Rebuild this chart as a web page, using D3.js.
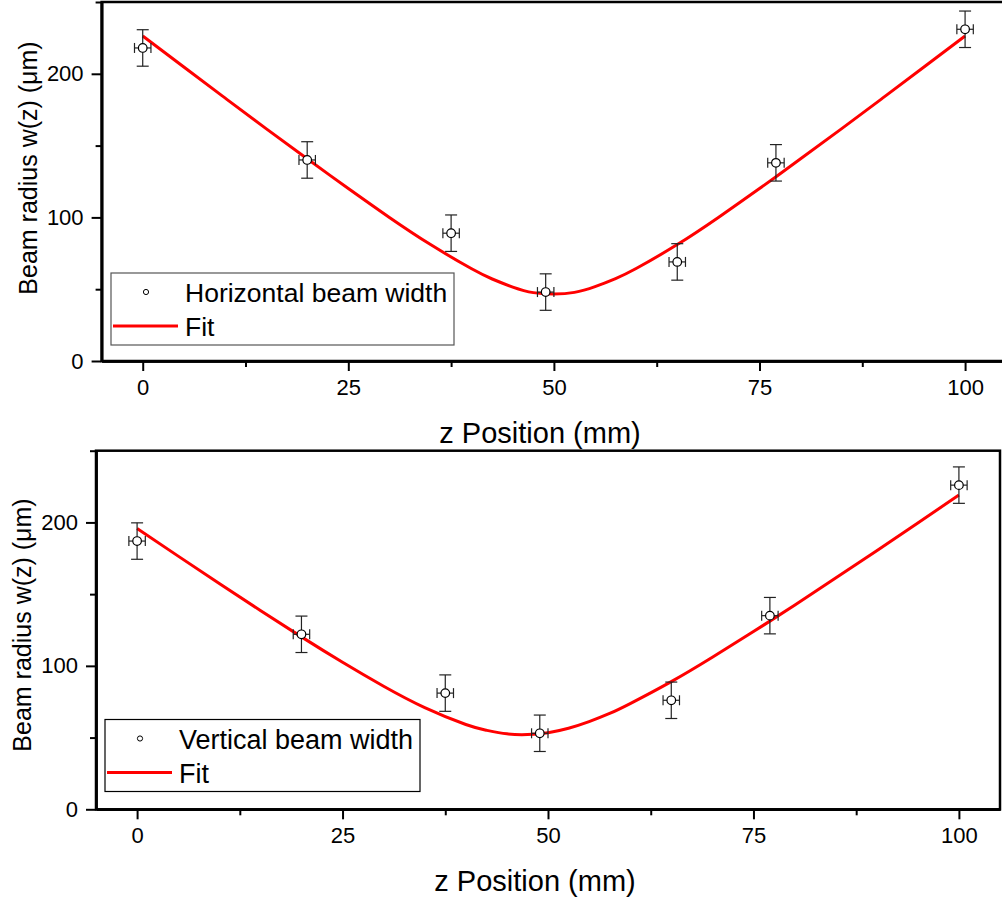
<!DOCTYPE html>
<html>
<head>
<meta charset="utf-8">
<script src="https://cdn.jsdelivr.net/npm/d3@7"></script>
<style>
  body { margin: 0; background: #fff; }
  svg { display: block; }
  text { font-family: "Liberation Sans", Arial, sans-serif; fill: #000; }
</style>
</head>
<body>
<script>
// measured points (mm, um)
var zPos = [0, 20, 37.5, 49, 65, 77, 100];
var horizWidth = [218, 140, 89, 48, 69, 138, 231];
var vertWidth = [187, 122, 81, 53, 76, 135, 226];
var wErr = 12.7;   // um
var zErr = 1;      // mm

// fit curves
var fitZ = [0, 5, 10, 15, 20, 25, 30, 35, 40, 42.5, 45, 47.5, 50, 52.5, 55, 57.5, 60, 65, 70, 75, 80, 85, 90, 95, 100];
var horizFit = [226.3, 204.7, 183.2, 161.8, 140.8, 120.1, 100.0, 81.1, 64.2, 57.1, 51.5, 47.6, 46.6, 47.8, 51.8, 57.4, 64.4, 81.1, 100.0, 120.1, 140.8, 161.8, 183.2, 204.7, 226.3];
var vertFit = [195.8, 176.5, 157.4, 138.6, 120.2, 102.5, 85.8, 70.9, 59.1, 55.1, 52.6, 52.1, 53.4, 56.5, 61.1, 66.8, 73.7, 89.0, 106.0, 123.9, 142.3, 161.2, 180.3, 199.6, 219.1];

// ticks
var xMajor = [0, 25, 50, 75, 100];
var xMinor = [12.5, 37.5, 62.5, 87.5];
var yMajor = [0, 100, 200];
var yMinor = [50, 150, 250];

var w = 1002, h = 900;
var svg = d3.select("body").append("svg")
            .attr("width", w)
            .attr("height", h);

function drawPanel(p) {
  var xScale = d3.scaleLinear().domain([-5, 105]).range([p.left, p.right]);
  var yScale = d3.scaleLinear().domain([0, 250]).range([p.bottom, p.top]);
  var g = svg.append("g");

  // frame
  g.append("rect")
   .attr("x", p.left).attr("y", p.top)
   .attr("width", p.right - p.left).attr("height", p.bottom - p.top)
   .attr("fill", "none").attr("stroke", "#000").attr("stroke-width", 2.5);

  // axes (major + minor)
  var xAxis = d3.axisBottom(xScale).tickValues(xMajor).tickSize(10).tickSizeOuter(0).tickPadding(8);
  var xAxisMinor = d3.axisBottom(xScale).tickValues(xMinor).tickSize(6).tickSizeOuter(0).tickFormat("");
  var yAxis = d3.axisLeft(yScale).tickValues(yMajor).tickSize(10).tickSizeOuter(0).tickPadding(8);
  var yAxisMinor = d3.axisLeft(yScale).tickValues(yMinor).tickSize(6).tickSizeOuter(0).tickFormat("");

  [[xAxis, "x"], [xAxisMinor, "x"], [yAxis, "y"], [yAxisMinor, "y"]].forEach(function(a) {
    var ax = g.append("g")
      .attr("transform", a[1] == "x" ? "translate(0," + p.bottom + ")" : "translate(" + p.left + ",0)")
      .call(a[0]);
    ax.select(".domain").attr("stroke", "#000").attr("stroke-width", 2.5);
    ax.selectAll(".tick line").attr("stroke", "#000").attr("stroke-width", 2);
    ax.selectAll(".tick text")
      .style("font-family", "'Liberation Sans', Arial, sans-serif")
      .style("font-size", "22px").attr("fill", "#000");
  });

  // fit line
  var line = d3.line()
               .x(function(d, i) { return xScale(fitZ[i]); })
               .y(function(d) { return yScale(d); })
               .curve(d3.curveNatural);
  g.append("path")
   .datum(p.fit)
   .attr("d", line)
   .attr("fill", "none")
   .attr("stroke", "#ff0000")
   .attr("stroke-width", 3);

  // error bars + points
  for (let i = 0; i < zPos.length; i++) {
    var cx = xScale(zPos[i]);
    var cy = yScale(p.data[i]);
    var yt = yScale(p.data[i] + wErr), yb = yScale(p.data[i] - wErr);
    var xl = xScale(zPos[i] - zErr), xr = xScale(zPos[i] + zErr);
    var eb = g.append("g").attr("stroke", "#222").attr("stroke-width", 1.2);
    eb.append("line").attr("x1", cx).attr("x2", cx).attr("y1", yt).attr("y2", yb);
    eb.append("line").attr("x1", cx - 6).attr("x2", cx + 6).attr("y1", yt).attr("y2", yt);
    eb.append("line").attr("x1", cx - 6).attr("x2", cx + 6).attr("y1", yb).attr("y2", yb);
    eb.append("line").attr("x1", xl).attr("x2", xr).attr("y1", cy).attr("y2", cy);
    eb.append("line").attr("x1", xl).attr("x2", xl).attr("y1", cy - 5).attr("y2", cy + 5);
    eb.append("line").attr("x1", xr).attr("x2", xr).attr("y1", cy - 5).attr("y2", cy + 5);
    g.append("circle")
     .attr("cx", cx).attr("cy", cy).attr("r", 4.3)
     .attr("fill", "#fff").attr("stroke", "#000").attr("stroke-width", 1.2);
  }

  // legend
  var lg = p.legend;
  g.append("rect")
   .attr("x", lg.x).attr("y", lg.y).attr("width", lg.w).attr("height", 72)
   .attr("fill", "#fff").attr("stroke", lg.border).attr("stroke-width", 1.2);
  g.append("circle")
   .attr("cx", lg.x + 35).attr("cy", lg.y + 19).attr("r", 2.6)
   .attr("fill", "#fff").attr("stroke", "#000").attr("stroke-width", 1);
  g.append("line")
   .attr("x1", lg.x + 2).attr("x2", lg.x + 67)
   .attr("y1", lg.y + 53).attr("y2", lg.y + 53)
   .attr("stroke", "#ff0000").attr("stroke-width", 3);
  g.append("text").attr("x", lg.x + 74).attr("y", lg.y + 29)
   .style("font-size", lg.font + "px").text(p.label);
  g.append("text").attr("x", lg.x + 74).attr("y", lg.y + 63)
   .style("font-size", lg.font + "px").text("Fit");

  // axis titles
  g.append("text")
   .attr("x", p.xTitle[0]).attr("y", p.xTitle[1])
   .style("text-anchor", "middle").style("font-size", "29px")
   .text("z Position (mm)");
  g.append("text")
   .attr("transform", "translate(" + p.yTitle[0] + "," + p.yTitle[1] + ") rotate(-90)")
   .style("text-anchor", "middle").style("font-size", "25px")
   .text("Beam radius w(z) (\u03bcm)");
}

drawPanel({
  left: 101.6, right: 1006.2, top: 2, bottom: 361,
  data: horizWidth, fit: horizFit, label: "Horizontal beam width",
  legend: {x: 111, y: 273, w: 343, border: "#555", font: 26.5},
  xTitle: [540, 443], yTitle: [37, 168]
});

drawPanel({
  left: 96, right: 1000, top: 450.7, bottom: 809.3,
  data: vertWidth, fit: vertFit, label: "Vertical beam width",
  legend: {x: 105, y: 719.5, w: 315, border: "#000", font: 27},
  xTitle: [535, 891], yTitle: [31, 625]
});
</script>
</body>
</html>
